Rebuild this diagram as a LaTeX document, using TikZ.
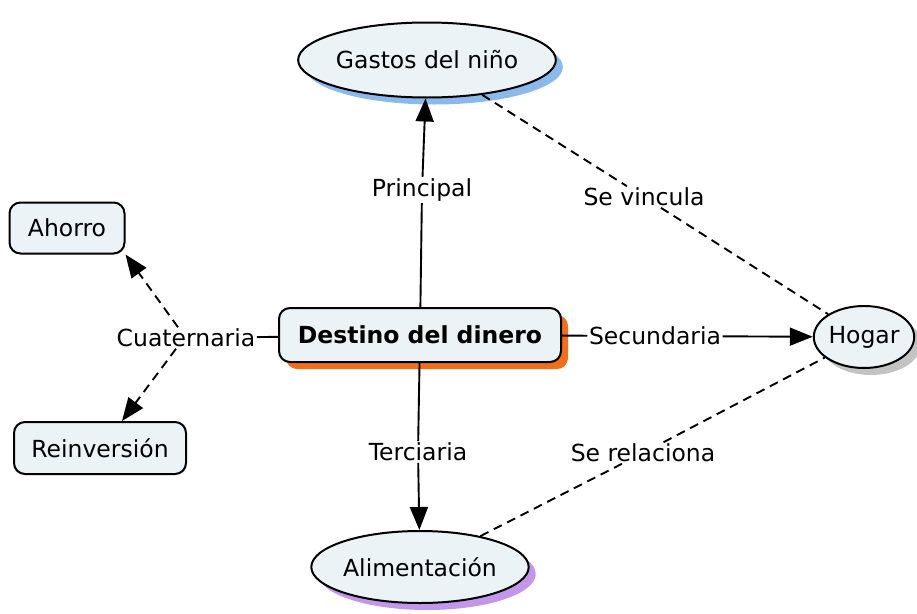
\documentclass[tikz,border=0pt]{standalone}
\usepackage{fontspec}
\setmainfont{DejaVu Sans}
\usetikzlibrary{shapes.geometric}
\usetikzlibrary{arrows.meta}
\usetikzlibrary{shadows}
\definecolor{nodefill}{RGB}{236,243,247}
\definecolor{shadeorange}{RGB}{243,110,28}
\definecolor{shadeblue}{RGB}{140,185,235}
\definecolor{shadegray}{RGB}{195,195,195}
\definecolor{shadepurple}{RGB}{195,150,235}

\begin{document}
\begin{tikzpicture}[x=1pt,y=-1pt,
  every node/.style={font=\fontsize{23.5}{26}\selectfont},
  concept/.style={draw,line width=2pt,fill=nodefill,inner sep=0pt},
  oval/.style={concept,ellipse},
  box/.style={concept,rectangle,rounded corners=11pt},
  shade/.style={drop shadow={shadow xshift=7pt,shadow yshift=-7pt,fill=#1,opacity=1}},
  linkword/.style={inner sep=1.5pt},
  conn/.style={line width=1.9pt},
  dashconn/.style={conn,dash pattern=on 9pt off 6pt},
  tip/.style={-{Triangle[length=23pt,width=18pt]}}]
  \useasboundingbox (0,0) rectangle (917,613);

  %concepts
  \node[box,shade=shadeorange,minimum width=282pt,minimum height=54pt] (destino) at (420,335) {\textbf{Destino del dinero}};
  \node[oval,shade=shadeblue,minimum width=228pt,minimum height=75pt] (gastos) at (427,60) {Gastos del niño};
  \node[oval,shade=shadegray,minimum width=100pt,minimum height=62pt] (hogar) at (864,337) {Hogar};
  \node[oval,shade=shadepurple,minimum width=190pt,minimum height=72pt] (alim) at (420,567) {Alimentación};
  \node[box,minimum width=115pt,minimum height=51pt] (ahorro) at (67,228) {Ahorro};
  \node[box,minimum width=172pt,minimum height=52pt] (reinv) at (100,448) {Reinversión};

  %linking words
  \node[linkword] (principal) at (422,190) {Principal};
  \node[linkword] (secund) at (655,336) {Secundaria};
  \node[linkword] (terc) at (418,452) {Terciaria};
  \node[linkword] (cuat) at (186,338) {Cuaternaria};
  \node[linkword] (vincula) at (644,197) {Se vincula};
  \node[linkword] (relaciona) at (643,453) {Se relaciona};

  %connectors
  \draw[conn] (destino) -- (principal);
  \draw[conn,tip] (principal) -- (gastos);
  \draw[conn] (destino) -- (secund);
  \draw[conn,tip] (secund) -- (hogar);
  \draw[conn] (destino) -- (terc);
  \draw[conn,tip] (terc) -- (alim);
  \draw[conn] (destino) -- (cuat);
  \draw[dashconn,tip] ([xshift=-8pt]cuat.north) -- (ahorro.south east);
  \draw[dashconn,tip] ([xshift=-10pt]cuat.south) -- ([xshift=22pt]reinv.north);
  \draw[dashconn] (gastos) -- (vincula) -- (hogar);
  \draw[dashconn] (alim) -- (relaciona) -- (hogar);
\end{tikzpicture}
\end{document}
